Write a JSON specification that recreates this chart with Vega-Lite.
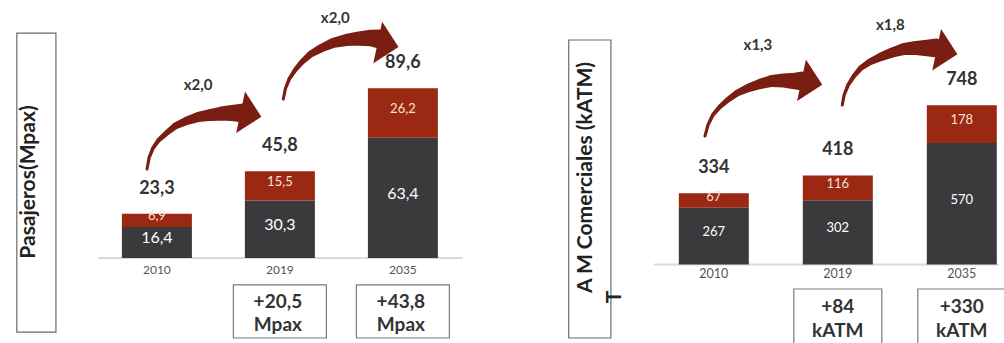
{
  "$schema": "https://vega.github.io/schema/vega-lite/v6.json",
  "padding": 0,
  "background": "white",
  "spacing": 0,
  "bounds": "flush",
  "config": {"view": {"stroke": null}, "font": "Lato"},
  "datasets": {
    "pas_bars": [
      {"year": "2010", "slot": 0, "kind": "base", "value": 16.4, "label": "16,4"},
      {"year": "2010", "slot": 0, "kind": "extra", "value": 6.9, "label": "6,9"},
      {"year": "2019", "slot": 1, "kind": "base", "value": 30.3, "label": "30,3"},
      {"year": "2019", "slot": 1, "kind": "extra", "value": 15.5, "label": "15,5"},
      {"year": "2035", "slot": 2, "kind": "base", "value": 63.4, "label": "63,4"},
      {"year": "2035", "slot": 2, "kind": "extra", "value": 26.2, "label": "26,2"}
    ],
    "pas_totals": [
      {"year": "2010", "slot": 0, "total": 23.3, "label": "23,3"},
      {"year": "2019", "slot": 1, "total": 45.8, "label": "45,8"},
      {"year": "2035", "slot": 2, "total": 89.6, "label": "89,6"}
    ],
    "pas_arrows": [
      {"arrow": "a", "i": 0, "x": -0.080, "y": 47.0},
      {"arrow": "a", "i": 1, "x": -0.064, "y": 52.8},
      {"arrow": "a", "i": 2, "x": -0.032, "y": 58.0},
      {"arrow": "a", "i": 3, "x": 0.016, "y": 62.3},
      {"arrow": "a", "i": 4, "x": 0.080, "y": 66.0},
      {"arrow": "a", "i": 5, "x": 0.151, "y": 69.7},
      {"arrow": "a", "i": 6, "x": 0.239, "y": 72.3},
      {"arrow": "a", "i": 7, "x": 0.335, "y": 74.4},
      {"arrow": "a", "i": 8, "x": 0.438, "y": 75.5},
      {"arrow": "a", "i": 9, "x": 0.534, "y": 76.3},
      {"arrow": "a", "i": 10, "x": 0.622, "y": 76.5},
      {"arrow": "a", "i": 11, "x": 0.701, "y": 76.5},
      {"arrow": "b", "i": 0, "x": 1.028, "y": 83.9},
      {"arrow": "b", "i": 1, "x": 1.044, "y": 89.2},
      {"arrow": "b", "i": 2, "x": 1.076, "y": 94.5},
      {"arrow": "b", "i": 3, "x": 1.124, "y": 99.2},
      {"arrow": "b", "i": 4, "x": 1.179, "y": 103.4},
      {"arrow": "b", "i": 5, "x": 1.251, "y": 107.7},
      {"arrow": "b", "i": 6, "x": 1.339, "y": 110.8},
      {"arrow": "b", "i": 7, "x": 1.434, "y": 113.5},
      {"arrow": "b", "i": 8, "x": 1.538, "y": 115.0},
      {"arrow": "b", "i": 9, "x": 1.641, "y": 115.8},
      {"arrow": "b", "i": 10, "x": 1.737, "y": 116.1},
      {"arrow": "b", "i": 11, "x": 1.809, "y": 115.6}
    ],
    "pas_heads": [
      {"arrow": "a", "x": 0.765, "y": 75.7},
      {"arrow": "b", "x": 1.880, "y": 112.5}
    ],
    "pas_mult": [
      {"x": 0.335, "y": 91.3, "label": "x2,0"},
      {"x": 1.450, "y": 126.6, "label": "x2,0"}
    ],
    "pas_growth": [
      {"slot": 1, "label": "+20,5\nMpax"},
      {"slot": 2, "label": "+43,8\nMpax"}
    ],
    "atm_bars": [
      {"year": "2010", "slot": 0, "kind": "base", "value": 267, "label": "267"},
      {"year": "2010", "slot": 0, "kind": "extra", "value": 67, "label": "67"},
      {"year": "2019", "slot": 1, "kind": "base", "value": 302, "label": "302"},
      {"year": "2019", "slot": 1, "kind": "extra", "value": 116, "label": "116"},
      {"year": "2035", "slot": 2, "kind": "base", "value": 570, "label": "570"},
      {"year": "2035", "slot": 2, "kind": "extra", "value": 178, "label": "178"}
    ],
    "atm_totals": [
      {"year": "2010", "slot": 0, "total": 334, "label": "334"},
      {"year": "2019", "slot": 1, "total": 418, "label": "418"},
      {"year": "2035", "slot": 2, "total": 748, "label": "748"}
    ],
    "atm_arrows": [
      {"arrow": "c", "i": 0, "x": -0.071, "y": 603.3},
      {"arrow": "c", "i": 1, "x": -0.047, "y": 654.9},
      {"arrow": "c", "i": 2, "x": -0.008, "y": 701.9},
      {"arrow": "c", "i": 3, "x": 0.047, "y": 739.4},
      {"arrow": "c", "i": 4, "x": 0.111, "y": 772.3},
      {"arrow": "c", "i": 5, "x": 0.190, "y": 805.2},
      {"arrow": "c", "i": 6, "x": 0.277, "y": 828.6},
      {"arrow": "c", "i": 7, "x": 0.372, "y": 847.4},
      {"arrow": "c", "i": 8, "x": 0.466, "y": 861.5},
      {"arrow": "c", "i": 9, "x": 0.561, "y": 863.8},
      {"arrow": "c", "i": 10, "x": 0.648, "y": 861.5},
      {"arrow": "c", "i": 11, "x": 0.711, "y": 861.5},
      {"arrow": "d", "i": 0, "x": 1.036, "y": 748.8},
      {"arrow": "d", "i": 1, "x": 1.051, "y": 795.8},
      {"arrow": "d", "i": 2, "x": 1.083, "y": 842.7},
      {"arrow": "d", "i": 3, "x": 1.130, "y": 885.0},
      {"arrow": "d", "i": 4, "x": 1.186, "y": 922.5},
      {"arrow": "d", "i": 5, "x": 1.257, "y": 950.7},
      {"arrow": "d", "i": 6, "x": 1.344, "y": 974.2},
      {"arrow": "d", "i": 7, "x": 1.439, "y": 995.3},
      {"arrow": "d", "i": 8, "x": 1.534, "y": 1011.7},
      {"arrow": "d", "i": 9, "x": 1.628, "y": 1016.4},
      {"arrow": "d", "i": 10, "x": 1.715, "y": 1016.4},
      {"arrow": "d", "i": 11, "x": 1.794, "y": 1016.4}
    ],
    "atm_heads": [
      {"arrow": "c", "x": 0.791, "y": 854.5},
      {"arrow": "d", "x": 1.881, "y": 997.7}
    ],
    "atm_mult": [
      {"x": 0.356, "y": 1030.5, "label": "x1,3"},
      {"x": 1.423, "y": 1124.4, "label": "x1,8"}
    ],
    "atm_growth": [
      {"slot": 1, "label": "+84\nkATM"},
      {"slot": 2, "label": "+330\nkATM"}
    ]
  },
  "hconcat": [
    {
      "width": 500,
      "height": 343,
      "layer": [
        {
          "data": {"values": [{}]},
          "mark": {"type": "rect", "fill": "white", "stroke": "#6b6b6b", "strokeWidth": 1.2},
          "encoding": {
            "x": {"datum": -1.139, "type": "quantitative", "scale": {"domain": [-1.235, 2.749], "nice": false, "zero": false}, "axis": null},
            "x2": {"datum": -0.821},
            "y": {"datum": 118.7, "type": "quantitative", "scale": {"domain": [-44.85, 136.15], "nice": false, "zero": false}, "axis": null},
            "y2": {"datum": -39.1}
          }
        },
        {
          "data": {"values": [{}]},
          "mark": {"type": "text", "text": "Pasajeros(Mpax)", "angle": 270, "fontSize": 21, "fontWeight": "bold", "color": "#222222", "align": "center", "baseline": "middle"},
          "encoding": {
            "x": {"datum": -1.036, "type": "quantitative", "scale": {"domain": [-1.235, 2.749], "nice": false, "zero": false}, "axis": null},
            "y": {"datum": 40.1, "type": "quantitative", "scale": {"domain": [-44.85, 136.15], "nice": false, "zero": false}, "axis": null}
          }
        },
        {
          "data": {"values": [{}]},
          "mark": {"type": "rule", "color": "#d9d9d9", "strokeWidth": 2},
          "encoding": {
            "x": {"datum": -0.478, "type": "quantitative", "scale": {"domain": [-1.235, 2.749], "nice": false, "zero": false}, "axis": null},
            "x2": {"datum": 2.486},
            "y": {"datum": 0, "type": "quantitative", "scale": {"domain": [-44.85, 136.15], "nice": false, "zero": false}, "axis": null}
          }
        },
        {
          "data": {"name": "pas_bars"},
          "transform": [
            {"stack": "value", "groupby": ["year"], "sort": [{"field": "kind", "order": "ascending"}], "as": ["v0", "v1"]}
          ],
          "mark": {"type": "bar", "width": 70},
          "encoding": {
            "x": {"field": "slot", "type": "quantitative", "scale": {"domain": [-1.235, 2.749], "nice": false, "zero": false}, "axis": null},
            "y": {"field": "v1", "type": "quantitative", "scale": {"domain": [-44.85, 136.15], "nice": false, "zero": false}, "axis": null},
            "y2": {"field": "v0"},
            "color": {"field": "kind", "type": "nominal", "scale": {"domain": ["base", "extra"], "range": ["#3a3a3c", "#9a2812"]}, "legend": null}
          }
        },
        {
          "data": {"name": "pas_bars"},
          "transform": [
            {"stack": "value", "groupby": ["year"], "sort": [{"field": "kind", "order": "ascending"}], "as": ["v0", "v1"]},
            {"calculate": "(datum.v0 + datum.v1) / 2", "as": "mid"}
          ],
          "mark": {"type": "text", "baseline": "middle", "align": "center", "dy": -4},
          "encoding": {
            "x": {"field": "slot", "type": "quantitative", "scale": {"domain": [-1.235, 2.749], "nice": false, "zero": false}, "axis": null},
            "y": {"field": "mid", "type": "quantitative", "scale": {"domain": [-44.85, 136.15], "nice": false, "zero": false}, "axis": null},
            "text": {"field": "label"},
            "color": {"condition": {"test": "datum.kind === 'base'", "value": "#ffffff"}, "value": "#f7e2da"},
            "size": {"condition": {"test": "datum.kind === 'base'", "value": 16}, "value": 13}
          }
        },
        {
          "data": {"name": "pas_totals"},
          "mark": {"type": "text", "baseline": "middle", "align": "center", "dy": -25, "fontSize": 18, "fontWeight": "bold", "color": "#333333"},
          "encoding": {
            "x": {"field": "slot", "type": "quantitative", "scale": {"domain": [-1.235, 2.749], "nice": false, "zero": false}, "axis": null},
            "y": {"field": "total", "type": "quantitative", "scale": {"domain": [-44.85, 136.15], "nice": false, "zero": false}, "axis": null},
            "text": {"field": "label"}
          }
        },
        {
          "data": {"name": "pas_totals"},
          "mark": {"type": "text", "baseline": "middle", "align": "center", "dy": 12, "fontSize": 12, "color": "#555555"},
          "encoding": {
            "x": {"field": "slot", "type": "quantitative", "scale": {"domain": [-1.235, 2.749], "nice": false, "zero": false}, "axis": null},
            "y": {"datum": 0, "type": "quantitative", "scale": {"domain": [-44.85, 136.15], "nice": false, "zero": false}, "axis": null},
            "text": {"field": "year"}
          }
        },
        {
          "data": {"name": "pas_arrows"},
          "mark": {"type": "trail", "color": "#7a1d13"},
          "encoding": {
            "x": {"field": "x", "type": "quantitative", "scale": {"domain": [-1.235, 2.749], "nice": false, "zero": false}, "axis": null},
            "y": {"field": "y", "type": "quantitative", "scale": {"domain": [-44.85, 136.15], "nice": false, "zero": false}, "axis": null},
            "detail": {"field": "arrow"},
            "order": {"field": "i"},
            "size": {"field": "i", "type": "quantitative", "scale": {"type": "pow", "exponent": 1.8, "domain": [0, 11], "range": [3, 19]}, "legend": null}
          }
        },
        {
          "data": {"name": "pas_heads"},
          "mark": {"type": "point", "shape": "M-0.5,-1L0.5,0L-0.5,1Z", "filled": true, "size": 1800, "angle": 12, "color": "#7a1d13", "opacity": 1, "strokeWidth": 0},
          "encoding": {
            "x": {"field": "x", "type": "quantitative", "scale": {"domain": [-1.235, 2.749], "nice": false, "zero": false}, "axis": null},
            "y": {"field": "y", "type": "quantitative", "scale": {"domain": [-44.85, 136.15], "nice": false, "zero": false}, "axis": null}
          }
        },
        {
          "data": {"name": "pas_mult"},
          "mark": {"type": "text", "baseline": "middle", "align": "center", "fontSize": 15, "fontWeight": "bold", "color": "#333333"},
          "encoding": {
            "x": {"field": "x", "type": "quantitative", "scale": {"domain": [-1.235, 2.749], "nice": false, "zero": false}, "axis": null},
            "y": {"field": "y", "type": "quantitative", "scale": {"domain": [-44.85, 136.15], "nice": false, "zero": false}, "axis": null},
            "text": {"field": "label"}
          }
        },
        {
          "data": {"name": "pas_growth"},
          "mark": {"type": "bar", "width": 93, "fill": "white", "stroke": "#7a7a7a", "strokeWidth": 1.2, "clip": true},
          "encoding": {
            "x": {"field": "slot", "type": "quantitative", "scale": {"domain": [-1.235, 2.749], "nice": false, "zero": false}, "axis": null},
            "y": {"datum": -14.2, "type": "quantitative", "scale": {"domain": [-44.85, 136.15], "nice": false, "zero": false}, "axis": null},
            "y2": {"datum": -42.2}
          }
        },
        {
          "data": {"name": "pas_growth"},
          "mark": {"type": "text", "baseline": "middle", "align": "center", "lineBreak": "\n", "lineHeight": 23, "fontSize": 19, "fontWeight": "bold", "color": "#333333", "dx": -2},
          "encoding": {
            "x": {"field": "slot", "type": "quantitative", "scale": {"domain": [-1.235, 2.749], "nice": false, "zero": false}, "axis": null},
            "y": {"datum": -23.2, "type": "quantitative", "scale": {"domain": [-44.85, 136.15], "nice": false, "zero": false}, "axis": null},
            "text": {"field": "label"}
          }
        }
      ]
    },
    {
      "width": 504,
      "height": 343,
      "layer": [
        {
          "data": {"values": [{}]},
          "mark": {"type": "rect", "fill": "white", "stroke": "#6b6b6b", "strokeWidth": 1.2},
          "encoding": {
            "x": {"datum": -1.170, "type": "quantitative", "scale": {"domain": [-1.684, 2.300], "nice": false, "zero": false}, "axis": null},
            "x2": {"datum": -0.830},
            "y": {"datum": 1054, "type": "quantitative", "scale": {"domain": [-368.5, 1241.8], "nice": false, "zero": false}, "axis": null},
            "y2": {"datum": -345}
          }
        },
        {
          "data": {"values": [{}]},
          "mark": {"type": "text", "text": "A M Comerciales (kATM)", "angle": 270, "fontSize": 21, "fontWeight": "bold", "color": "#222222", "align": "center", "baseline": "middle"},
          "encoding": {
            "x": {"datum": -1.028, "type": "quantitative", "scale": {"domain": [-1.684, 2.300], "nice": false, "zero": false}, "axis": null},
            "y": {"datum": 408.5, "type": "quantitative", "scale": {"domain": [-368.5, 1241.8], "nice": false, "zero": false}, "axis": null}
          }
        },
        {
          "data": {"values": [{}]},
          "mark": {"type": "text", "text": "T", "angle": 270, "fontSize": 21, "fontWeight": "bold", "color": "#222222", "align": "center", "baseline": "middle"},
          "encoding": {
            "x": {"datum": -0.798, "type": "quantitative", "scale": {"domain": [-1.684, 2.300], "nice": false, "zero": false}, "axis": null},
            "y": {"datum": -152.6, "type": "quantitative", "scale": {"domain": [-368.5, 1241.8], "nice": false, "zero": false}, "axis": null}
          }
        },
        {
          "data": {"values": [{}]},
          "mark": {"type": "rule", "color": "#d9d9d9", "strokeWidth": 2},
          "encoding": {
            "x": {"datum": -0.482, "type": "quantitative", "scale": {"domain": [-1.684, 2.300], "nice": false, "zero": false}, "axis": null},
            "x2": {"datum": 2.300},
            "y": {"datum": 0, "type": "quantitative", "scale": {"domain": [-368.5, 1241.8], "nice": false, "zero": false}, "axis": null}
          }
        },
        {
          "data": {"name": "atm_bars"},
          "transform": [
            {"stack": "value", "groupby": ["year"], "sort": [{"field": "kind", "order": "ascending"}], "as": ["v0", "v1"]}
          ],
          "mark": {"type": "bar", "width": 70},
          "encoding": {
            "x": {"field": "slot", "type": "quantitative", "scale": {"domain": [-1.684, 2.300], "nice": false, "zero": false}, "axis": null},
            "y": {"field": "v1", "type": "quantitative", "scale": {"domain": [-368.5, 1241.8], "nice": false, "zero": false}, "axis": null},
            "y2": {"field": "v0"},
            "color": {"field": "kind", "type": "nominal", "scale": {"domain": ["base", "extra"], "range": ["#3a3a3c", "#9a2812"]}, "legend": null}
          }
        },
        {
          "data": {"name": "atm_bars"},
          "transform": [
            {"stack": "value", "groupby": ["year"], "sort": [{"field": "kind", "order": "ascending"}], "as": ["v0", "v1"]},
            {"calculate": "(datum.v0 + datum.v1) / 2", "as": "mid"}
          ],
          "mark": {"type": "text", "baseline": "middle", "align": "center", "dy": -4, "fontSize": 13},
          "encoding": {
            "x": {"field": "slot", "type": "quantitative", "scale": {"domain": [-1.684, 2.300], "nice": false, "zero": false}, "axis": null},
            "y": {"field": "mid", "type": "quantitative", "scale": {"domain": [-368.5, 1241.8], "nice": false, "zero": false}, "axis": null},
            "text": {"field": "label"},
            "color": {"condition": {"test": "datum.kind === 'base'", "value": "#ffffff"}, "value": "#f7e2da"}
          }
        },
        {
          "data": {"name": "atm_totals"},
          "mark": {"type": "text", "baseline": "middle", "align": "center", "dy": -25, "fontSize": 18, "fontWeight": "bold", "color": "#333333"},
          "encoding": {
            "x": {"field": "slot", "type": "quantitative", "scale": {"domain": [-1.684, 2.300], "nice": false, "zero": false}, "axis": null},
            "y": {"field": "total", "type": "quantitative", "scale": {"domain": [-368.5, 1241.8], "nice": false, "zero": false}, "axis": null},
            "text": {"field": "label"}
          }
        },
        {
          "data": {"name": "atm_totals"},
          "mark": {"type": "text", "baseline": "middle", "align": "center", "dy": 9, "fontSize": 12.5, "color": "#555555"},
          "encoding": {
            "x": {"field": "slot", "type": "quantitative", "scale": {"domain": [-1.684, 2.300], "nice": false, "zero": false}, "axis": null},
            "y": {"datum": 0, "type": "quantitative", "scale": {"domain": [-368.5, 1241.8], "nice": false, "zero": false}, "axis": null},
            "text": {"field": "year"}
          }
        },
        {
          "data": {"name": "atm_arrows"},
          "mark": {"type": "trail", "color": "#7a1d13"},
          "encoding": {
            "x": {"field": "x", "type": "quantitative", "scale": {"domain": [-1.684, 2.300], "nice": false, "zero": false}, "axis": null},
            "y": {"field": "y", "type": "quantitative", "scale": {"domain": [-368.5, 1241.8], "nice": false, "zero": false}, "axis": null},
            "detail": {"field": "arrow"},
            "order": {"field": "i"},
            "size": {"field": "i", "type": "quantitative", "scale": {"type": "pow", "exponent": 1.8, "domain": [0, 11], "range": [3, 19]}, "legend": null}
          }
        },
        {
          "data": {"name": "atm_heads"},
          "mark": {"type": "point", "shape": "M-0.5,-1L0.5,0L-0.5,1Z", "filled": true, "size": 1800, "angle": 12, "color": "#7a1d13", "opacity": 1, "strokeWidth": 0},
          "encoding": {
            "x": {"field": "x", "type": "quantitative", "scale": {"domain": [-1.684, 2.300], "nice": false, "zero": false}, "axis": null},
            "y": {"field": "y", "type": "quantitative", "scale": {"domain": [-368.5, 1241.8], "nice": false, "zero": false}, "axis": null}
          }
        },
        {
          "data": {"name": "atm_mult"},
          "mark": {"type": "text", "baseline": "middle", "align": "center", "fontSize": 15, "fontWeight": "bold", "color": "#333333"},
          "encoding": {
            "x": {"field": "x", "type": "quantitative", "scale": {"domain": [-1.684, 2.300], "nice": false, "zero": false}, "axis": null},
            "y": {"field": "y", "type": "quantitative", "scale": {"domain": [-368.5, 1241.8], "nice": false, "zero": false}, "axis": null},
            "text": {"field": "label"}
          }
        },
        {
          "data": {"name": "atm_growth"},
          "mark": {"type": "bar", "width": 88, "fill": "white", "stroke": "#7a7a7a", "strokeWidth": 1.2, "clip": true},
          "encoding": {
            "x": {"field": "slot", "type": "quantitative", "scale": {"domain": [-1.684, 2.300], "nice": false, "zero": false}, "axis": null},
            "y": {"datum": -115, "type": "quantitative", "scale": {"domain": [-368.5, 1241.8], "nice": false, "zero": false}, "axis": null},
            "y2": {"datum": -380}
          }
        },
        {
          "data": {"name": "atm_growth"},
          "mark": {"type": "text", "baseline": "middle", "align": "center", "lineBreak": "\n", "lineHeight": 24, "fontSize": 19, "fontWeight": "bold", "color": "#333333", "clip": true},
          "encoding": {
            "x": {"field": "slot", "type": "quantitative", "scale": {"domain": [-1.684, 2.300], "nice": false, "zero": false}, "axis": null},
            "y": {"datum": -199.5, "type": "quantitative", "scale": {"domain": [-368.5, 1241.8], "nice": false, "zero": false}, "axis": null},
            "text": {"field": "label"}
          }
        }
      ]
    }
  ]
}
